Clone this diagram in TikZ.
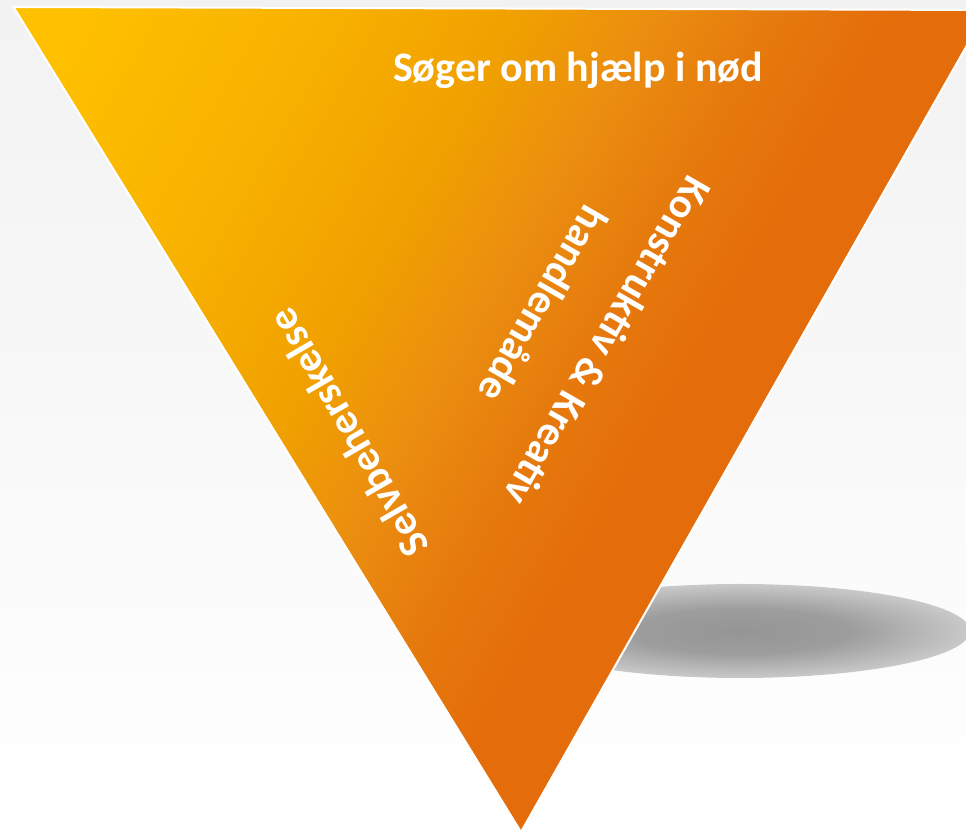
\documentclass[tikz,border=0pt]{standalone}
\usepackage{fontspec}
\setmainfont{Carlito}
\usepackage{tikz}

\definecolor{triyellow}{HTML}{FFC000}
\definecolor{trisun}{HTML}{F8B200}
\definecolor{trimid}{HTML}{F0A000}
\definecolor{triamber}{HTML}{EB8E10}
\definecolor{tridark}{HTML}{E67A0D}
\definecolor{triorange}{HTML}{E46C0A}
\definecolor{shadowcore}{HTML}{959595}
\definecolor{shadowmid}{HTML}{9D9D9D}
\definecolor{shadowrim}{HTML}{C9C9C9}
\definecolor{paper}{HTML}{F2F2F2}
\pgfdeclarehorizontalshading{trifill}{100bp}{color(0bp)=(triyellow); color(19bp)=(triyellow); color(30bp)=(trisun); color(40bp)=(trimid); color(46bp)=(triamber); color(52bp)=(tridark); color(58bp)=(triorange); color(100bp)=(triorange)}
\pgfdeclareradialshading{shadowfade}{\pgfpointorigin}{color(0bp)=(shadowcore); color(12bp)=(shadowmid); color(25bp)=(shadowrim); color(50bp)=(shadowrim)}

\begin{document}
\begin{tikzpicture}[x=1pt, y=1pt,
    labeltext/.style={text=white, font=\fontsize{42}{50}\selectfont\bfseries, inner sep=0pt}]
\useasboundingbox (0,0) rectangle (966,834);
\clip (0,0) rectangle (966,834);
\shade[top color=paper, bottom color=white] (0,0) rectangle (966,834);
\shade[shading=shadowfade] (740,203) ellipse [x radius=230, y radius=47];
\coordinate (tl) at (13.5,827);
\coordinate (tr) at (987,824);
\coordinate (bt) at (521,2);
\shadedraw[shading=trifill, shading angle=-30, draw=white, line width=2pt] (tl) -- (tr) -- (bt) -- cycle;
\node[labeltext] (need) at (578,764) {Søger om hjælp i nød};
\node[labeltext, align=center, rotate=240] (creative) at (576,511) {Konstruktiv \& Kreativ\\[24pt]handlemåde};
\node[labeltext, rotate=120] (control) at (348,401) {Selvbeherskelse};
\end{tikzpicture}
\end{document}
